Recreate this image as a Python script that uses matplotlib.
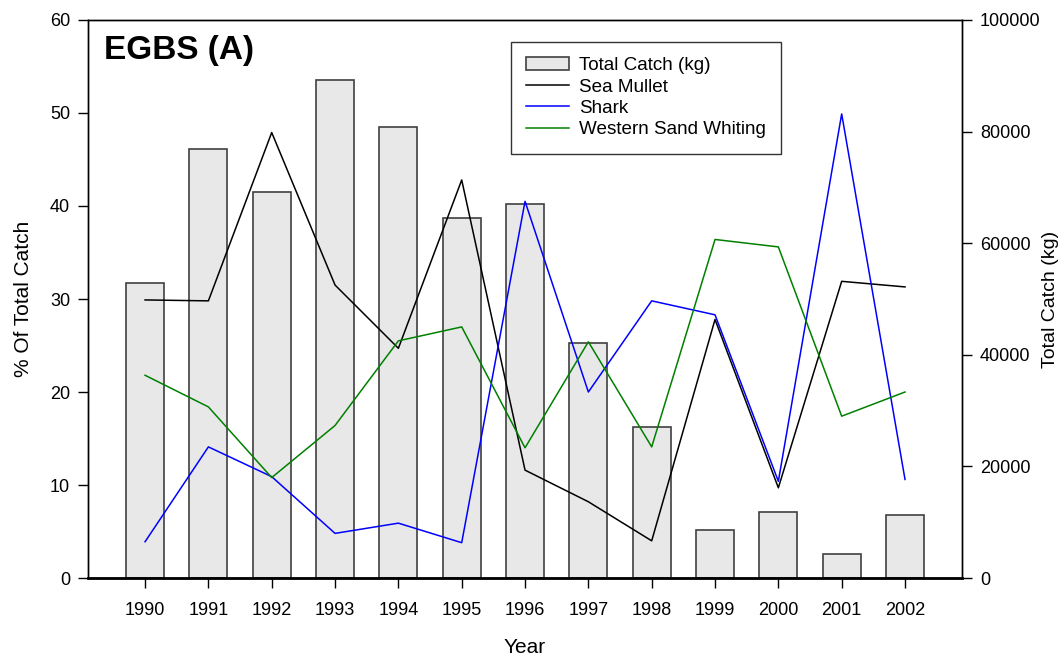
import numpy as np
import matplotlib.pyplot as plt

plt.rcParams['font.family'] = ['Liberation Sans', 'DejaVu Sans']

years = [1990, 1991, 1992, 1993, 1994, 1995, 1996, 1997, 1998, 1999, 2000, 2001, 2002]
total_catch = [52950, 76890, 69250, 89310, 80890, 64530, 67100, 42090, 26980, 8600, 11880, 4350, 11210]
sea_mullet = [29.9, 29.8, 47.9, 31.5, 24.7, 42.8, 11.6, 8.2, 4.0, 27.8, 9.7, 31.9, 31.3]
shark = [3.9, 14.1, 10.9, 4.8, 5.9, 3.8, 40.5, 20.0, 29.8, 28.3, 10.4, 49.9, 10.6]
whiting = [21.8, 18.4, 10.8, 16.4, 25.5, 27.0, 14.0, 25.4, 14.1, 36.4, 35.6, 17.4, 20.0]

fig = plt.figure(figsize=(10.61, 6.57), dpi=100)
ax = fig.add_axes([0.083, 0.1202, 0.8237, 0.8494])
ax2 = ax.twinx()

# bars behind, lines in front
ax.set_zorder(ax2.get_zorder() + 1)
ax.patch.set_visible(False)

bars = ax2.bar(years, total_catch, width=0.6, color='#e8e8e8',
               edgecolor='#404040', linewidth=1.2, label='Total Catch (kg)')
l1, = ax.plot(years, sea_mullet, color='black', lw=1.1, label='Sea Mullet')
l2, = ax.plot(years, shark, color='#0000ff', lw=1.1, label='Shark')
l3, = ax.plot(years, whiting, color='#008000', lw=1.1, label='Western Sand Whiting')

ax.set_xlim(1989.1, 2002.9)
ax.set_ylim(0, 60)
ax2.set_ylim(0, 100000)
ax.set_xticks(years)
ax.set_yticks(np.arange(0, 61, 10))
ax2.set_yticks(np.arange(0, 100001, 20000))

for a in (ax, ax2):
    a.tick_params(direction='out', length=7, width=1, labelsize=13, pad=6)
    for s in a.spines.values():
        s.set_linewidth(1)
ax.spines['bottom'].set_linewidth(2)
ax.tick_params(axis='x', pad=10)

ax.set_xlabel('Year', fontsize=15, labelpad=14)
ax.set_ylabel('% Of Total Catch', fontsize=15, labelpad=12)
ax2.set_ylabel('Total Catch (kg)', fontsize=14, labelpad=1)

ax.text(0.018, 0.945, 'EGBS (A)', transform=ax.transAxes, fontsize=24,
        fontweight='bold', va='center', ha='left')

leg = ax.legend(handles=[bars, l1, l2, l3], loc='upper left',
                bbox_to_anchor=(0.484, 0.9606), fontsize=13.6,
                frameon=True, fancybox=False, borderpad=0.8,
                labelspacing=0.22, handlelength=2.27, handletextpad=0.53,
                borderaxespad=0)
leg.get_frame().set_edgecolor('black')
leg.get_frame().set_linewidth(1)

fig.savefig('out.png', dpi=100)
